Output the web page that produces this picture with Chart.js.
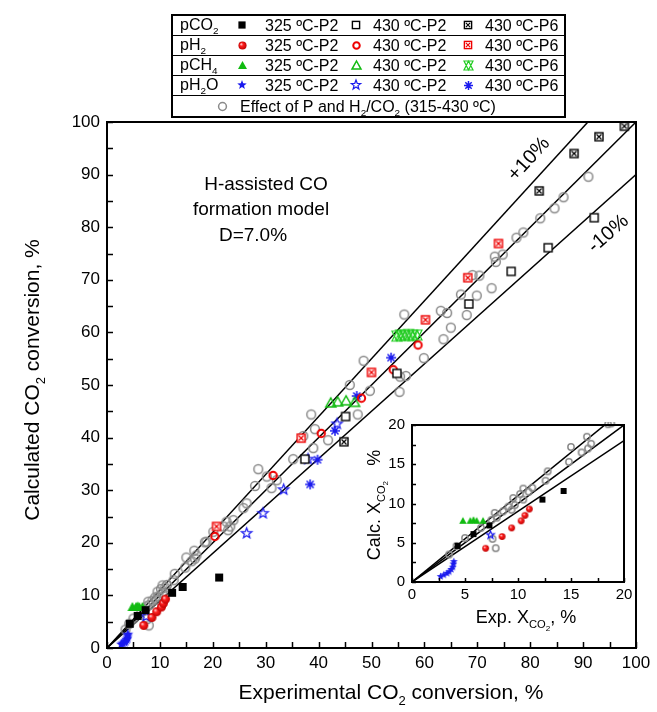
<!DOCTYPE html>
<html lang="en">
<head>
<meta charset="UTF-8">
<title>Calculated vs experimental CO2 conversion</title>
<script src="https://cdn.jsdelivr.net/npm/chart.js"></script>
<style>
  body { margin: 0; background: #fff; }
  #wrap { position: relative; width: 657px; height: 712px; }
  #mainChart { position: absolute; left: 0; top: 0; }
  #insetChart { position: absolute; left: 350px; top: 405px; }
</style>
</head>
<body>
<div id="wrap">
  <canvas id="mainChart" width="657" height="712"></canvas>
  <canvas id="insetChart" width="290" height="235"></canvas>
</div>
<script>
// data: [experimental, calculated] CO2 conversion, %
const pco2_325 = [[4.3,4.6],[5.8,6.1],[7.3,7.2],[12.3,10.5],[14.3,11.6],[21.2,13.4]];
const pco2_430p2 = [[37.4,35.9],[45.1,44.0],[54.8,52.2],[68.4,65.4],[76.4,71.6],[83.4,76.1],[92.1,81.8]];
const pco2_430p6 = [[44.8,39.2],[81.7,86.9],[88.3,94.0],[93.0,97.2],[97.8,99.2]];
const ph2_325 = [[6.95,4.3],[8.5,5.8],[9.4,6.9],[10.3,7.8],[10.66,8.5],[11.07,9.3]];
const ph2_430p2 = [[20.4,21.2],[31.4,32.8],[40.5,40.8],[48.1,47.5],[54.1,52.9],[58.8,57.6]];
const ph2_430p6 = [[20.7,23.1],[36.7,39.9],[50.0,52.4],[60.2,62.4],[68.2,70.4],[74.0,76.9]];
const pch4_325 = [[4.8,7.8],[5.5,7.8],[5.8,7.9],[6.1,7.8],[6.7,7.8]];
const pch4_430p2 = [[42.3,46.6],[43.6,46.8],[45.2,47.0],[46.8,46.7]];
const pch4_430p6 = [[54.8,59.3],[55.5,59.5],[56.3,59.4],[57.0,59.6],[57.8,59.4],[58.6,59.5]];
const ph2o_325 = [[2.7,0.7],[3.0,0.9],[3.3,1.1],[3.5,1.3],[3.7,1.6],[3.85,1.9],[3.9,2.3],[3.95,2.6]];
const ph2o_430p2 = [[7.4,6.0],[26.4,21.8],[29.5,25.6],[33.4,30.1],[38.0,35.9],[43.5,42.6]];
const ph2o_430p6 = [[38.4,31.1],[39.8,35.8],[43.1,41.3],[47.2,47.9],[53.7,55.2]];
const effectPH2 = [
  [3.5,3.5],[4.2,4.6],[5.0,5.6],[6.5,6.9],[7.5,7.9],[7.8,8.8],[8.0,8.2],[8.6,9.0],[9.1,9.6],
  [9.4,9.2],[9.55,10.7],[9.7,9.8],[10.2,11.2],[10.5,10.5],[10.5,11.9],[11.0,11.5],[11.35,12.0],
  [12.6,12.9],[12.8,14.1],[14.8,15.3],[15.0,17.2],[16.0,16.5],[16.5,18.5],[16.6,17.0],[16.9,17.6],
  [18.5,20.1],[7.6,5.5],[7.9,4.3],[18.8,20.2],[20.1,22.1],[22.0,23.1],[22.9,22.4],[23.3,23.1],
  [22.6,24.0],[23.9,24.3],[25.8,26.6],[26.4,27.5],[28.0,30.8],[28.6,34.0],[30.2,32.6],[31.1,30.4],
  [32.1,31.9],[35.2,35.9],[37.1,40.3],[38.6,44.4],[39.0,38.0],[39.3,41.6],[41.8,39.5],[45.9,50.0],
  [47.4,44.4],[48.5,54.6],[49.7,48.9],[55.3,48.7],[55.4,51.6],[56.5,51.7],[56.2,63.4],[59.9,55.1],
  [63.1,64.1],[64.3,63.7],[63.6,58.7],[65.0,60.9],[66.9,67.2],[68.0,63.3],[69.1,70.9],[70.4,70.8],
  [69.9,67.0],[72.7,68.4],[73.3,74.4],[73.5,73.4],[74.8,74.8],[77.4,78.0],[78.7,79.0],[81.9,81.7],
  [84.6,83.6],[86.3,85.7],[91.0,89.6]
];
// parity line and +/-10% bands (end points)
const parityLine = [[0,0],[100,100]];
const plus10Line = [[0,0],[90.91,100]];
const minus10Line = [[0,0],[100,90]];

const legendRowLabels = [['pCO',{t:'2',l:1}], ['pH',{t:'2',l:1}], ['pCH',{t:'4',l:1}], ['pH',{t:'2',l:1},'O']];
const legendItemLabels = ['325 ºC-P2', '430 ºC-P2', '430 ºC-P6'];
const legendEffectLabel = ['Effect of P and H',{t:'2',l:1},'/CO',{t:'2',l:1},' (315-430 ºC)'];

const FONT = '"Liberation Sans", Arial, sans-serif';

function makeMarker(kind, color, s) {
  const n = Math.ceil(s) + 6;
  const c = document.createElement('canvas');
  c.width = n; c.height = n;
  const g = c.getContext('2d');
  const m = n / 2, h = s / 2;
  g.strokeStyle = color; g.fillStyle = color; g.lineWidth = 1.4;
  g.lineJoin = 'miter';
  if (kind === 'sqFill') {
    g.fillRect(m - h, m - h, s, s);
  } else if (kind === 'sqOpen') {
    g.fillStyle = '#fff'; g.fillRect(m - h, m - h, s, s);
    g.strokeRect(m - h, m - h, s, s);
  } else if (kind === 'sqCross') {
    g.fillStyle = '#fff'; g.fillRect(m - h, m - h, s, s);
    g.strokeRect(m - h, m - h, s, s);
    g.lineWidth = 1.2;
    g.beginPath();
    g.moveTo(m - h + 1.5, m - h + 1.5); g.lineTo(m + h - 1.5, m + h - 1.5);
    g.moveTo(m + h - 1.5, m - h + 1.5); g.lineTo(m - h + 1.5, m + h - 1.5);
    g.stroke();
  } else if (kind === 'ball') {
    const gr = g.createRadialGradient(m - h * 0.35, m - h * 0.35, 0.3, m, m, h);
    gr.addColorStop(0, '#ffd0d0'); gr.addColorStop(0.35, '#ff2020'); gr.addColorStop(1, '#c00000');
    g.fillStyle = gr;
    g.beginPath(); g.arc(m, m, h, 0, Math.PI * 2); g.fill();
  } else if (kind === 'ring') {
    g.lineWidth = 2;
    g.beginPath(); g.arc(m, m, h - 0.8, 0, Math.PI * 2); g.stroke();
  } else if (kind === 'greyRing') {
    g.lineWidth = 1.5;
    g.beginPath(); g.arc(m, m, h - 0.6, 0, Math.PI * 2); g.stroke();
  } else if (kind === 'triFill' || kind === 'triOpen') {
    g.beginPath();
    g.moveTo(m, m - h); g.lineTo(m + h, m + h * 0.8); g.lineTo(m - h, m + h * 0.8); g.closePath();
    if (kind === 'triFill') g.fill(); else { g.lineWidth = 1.5; g.stroke(); }
  } else if (kind === 'hourglass') {
    g.lineWidth = 1.2;
    g.beginPath();
    g.moveTo(m, m - h); g.lineTo(m + h, m + h); g.lineTo(m - h, m + h); g.closePath();
    g.moveTo(m, m + h); g.lineTo(m + h, m - h); g.lineTo(m - h, m - h); g.closePath();
    g.stroke();
  } else if (kind === 'starFill' || kind === 'starOpen') {
    g.beginPath();
    for (let i = 0; i < 10; i++) {
      const r = i % 2 === 0 ? h : h * 0.42;
      const a = -Math.PI / 2 + i * Math.PI / 5;
      const px = m + r * Math.cos(a), py = m + r * Math.sin(a);
      if (i === 0) g.moveTo(px, py); else g.lineTo(px, py);
    }
    g.closePath();
    if (kind === 'starFill') g.fill(); else { g.lineWidth = 1.2; g.stroke(); }
  } else if (kind === 'asterisk') {
    g.lineWidth = 1.5;
    g.beginPath();
    for (let i = 0; i < 4; i++) {
      const a = i * Math.PI / 4;
      g.moveTo(m - h * Math.cos(a), m - h * Math.sin(a));
      g.lineTo(m + h * Math.cos(a), m + h * Math.sin(a));
    }
    g.stroke();
  }
  return c;
}

const seriesDefs = [
  {data: pco2_325, kind: 'sqFill', color: '#000', s: 8},
  {data: pco2_430p2, kind: 'sqOpen', color: '#000', s: 8},
  {data: pco2_430p6, kind: 'sqCross', color: '#000', s: 8},
  {data: ph2_325, kind: 'ball', color: '#e00', s: 9},
  {data: ph2_430p2, kind: 'ring', color: '#e00', s: 9},
  {data: ph2_430p6, kind: 'sqCross', color: '#ee0000', s: 8},
  {data: pch4_325, kind: 'triFill', color: '#11bb11', s: 10},
  {data: pch4_430p2, kind: 'triOpen', color: '#11bb11', s: 10},
  {data: pch4_430p6, kind: 'hourglass', color: '#22cc22', s: 10},
  {data: ph2o_325, kind: 'starFill', color: '#1a1aee', s: 11},
  {data: ph2o_430p2, kind: 'starOpen', color: '#1a1aee', s: 11},
  {data: ph2o_430p6, kind: 'asterisk', color: '#1a1aee', s: 10},
  {data: effectPH2, kind: 'greyRing', color: '#8a8a8a', s: 10}
];

function richParts(ctx, parts, size) {
  return parts.map(p => {
    const lvl = typeof p === 'string' ? 0 : p.l;
    const t = typeof p === 'string' ? p : p.t;
    const fs = lvl === 0 ? size : lvl === 1 ? size * 0.62 : size * 0.45;
    const dy = lvl === 0 ? 0 : lvl === 1 ? size * 0.28 : size * 0.45;
    ctx.font = fs + 'px ' + FONT;
    return {t, fs, dy, w: ctx.measureText(t).width};
  });
}
function drawRich(ctx, parts, x, y, size, align) {
  const ps = richParts(ctx, parts, size);
  const total = ps.reduce((a, p) => a + p.w, 0);
  let cx = align === 'center' ? x - total / 2 : align === 'right' ? x - total : x;
  ctx.textAlign = 'left'; ctx.textBaseline = 'alphabetic';
  ps.forEach(p => { ctx.font = p.fs + 'px ' + FONT; ctx.fillText(p.t, cx, y + p.dy); cx += p.w; });
}
function drawRotated(ctx, parts, x, y, size, angle) {
  ctx.save(); ctx.translate(x, y); ctx.rotate(angle);
  drawRich(ctx, parts, 0, 0, size, 'center');
  ctx.restore();
}

function buildDatasets(scale) {
  const pts = seriesDefs.map(d => ({
    data: d.data.map(p => ({x: p[0], y: p[1]})),
    pointStyle: makeMarker(d.kind, d.color, d.s * scale),
    pointRadius: d.s * scale / 2,
    showLine: false,
    clip: 3
  }));
  const lines = [parityLine, plus10Line, minus10Line].map(l => ({
    data: l.map(p => ({x: p[0], y: p[1]})),
    showLine: true, pointRadius: 0, borderColor: '#000', borderWidth: 1.5, clip: 0
  }));
  return pts.concat(lines);
}

function frameAndTicks(ctx, chart, major, minor, len) {
  const a = chart.chartArea, xs = chart.scales.x, ys = chart.scales.y;
  ctx.save();
  ctx.strokeStyle = '#000';
  ctx.lineWidth = 1.5;
  ctx.beginPath();
  for (let v = xs.min; v <= xs.max + 1e-9; v += minor) {
    const px = Math.round(xs.getPixelForValue(v)) + 0.5;
    ctx.moveTo(px, a.bottom); ctx.lineTo(px, a.bottom - len);
  }
  for (let v = ys.min; v <= ys.max + 1e-9; v += minor) {
    const py = Math.round(ys.getPixelForValue(v)) + 0.5;
    ctx.moveTo(a.left, py); ctx.lineTo(a.left + len, py);
  }
  ctx.stroke();
  ctx.lineWidth = 2;
  ctx.strokeRect(a.left, a.top, a.right - a.left, a.bottom - a.top);
  ctx.restore();
}

const mainPlugin = {
  id: 'mainDeco',
  afterDraw(chart) {
    const ctx = chart.ctx;
    frameAndTicks(ctx, chart, 10, 5, 6);
    ctx.save();
    ctx.fillStyle = '#000';
    // annotation text
    drawRich(ctx, ['H-assisted CO'], 266, 190, 19, 'center');
    drawRich(ctx, ['formation model'], 261, 215, 19, 'center');
    drawRich(ctx, ['D=7.0%'], 253, 241, 19, 'center');
    drawRotated(ctx, ['+10%'], 533, 163, 20, -0.83);
    drawRotated(ctx, ['-10%'], 612, 238, 20, -0.72);
    // axis titles
    drawRich(ctx, ['Experimental CO', {t: '2', l: 1}, ' conversion, %'], 391, 699, 21, 'center');
    drawRotated(ctx, ['Calculated CO', {t: '2', l: 1}, ' conversion, %'], 39, 380, 21, -Math.PI / 2);
    // legend table
    const L = 172, R = 565, rows = [15, 35, 55, 75, 95, 117];
    ctx.lineWidth = 1.2; ctx.strokeStyle = '#000';
    ctx.beginPath();
    for (let i = 1; i < rows.length - 1; i++) { ctx.moveTo(L, rows[i] + 0.5); ctx.lineTo(R, rows[i] + 0.5); }
    ctx.stroke();
    ctx.lineWidth = 2;
    ctx.strokeRect(L, rows[0], R - L, rows[5] - rows[0]);
    const markX = [242, 356, 468], textX = [265, 373, 485];
    for (let r = 0; r < 4; r++) {
      const cy = (rows[r] + rows[r + 1]) / 2;
      ctx.fillStyle = '#000';
      drawRich(ctx, legendRowLabels[r], 180, cy + 5, 16, 'left');
      for (let k = 0; k < 3; k++) {
        const img = legendMarkers[r * 3 + k];
        ctx.drawImage(img, Math.round(markX[k] - img.width / 2), Math.round(cy - img.height / 2));
        ctx.fillStyle = '#000';
        drawRich(ctx, [legendItemLabels[k]], textX[k], cy + 6, 16, 'left');
      }
    }
    const cy5 = (rows[4] + rows[5]) / 2;
    const gimg = legendMarkers[12];
    ctx.drawImage(gimg, Math.round(222 - gimg.width / 2), Math.round(cy5 - gimg.height / 2));
    ctx.fillStyle = '#000';
    drawRich(ctx, legendEffectLabel, 240, cy5 + 6, 16, 'left');
    ctx.restore();
  }
};

const legendMarkers = seriesDefs.map(d => makeMarker(d.kind, d.color, d.s * 0.9));

const insetPlugin = {
  id: 'insetDeco',
  afterDraw(chart) {
    const ctx = chart.ctx;
    frameAndTicks(ctx, chart, 5, 2.5, 4);
    ctx.save();
    ctx.fillStyle = '#000';
    drawRich(ctx, ['Exp. X', {t: 'CO', l: 1}, {t: '2', l: 2}, ', %'], 176, 218, 18, 'center');
    drawRotated(ctx, ['Calc. X', {t: 'CO', l: 1}, {t: '2', l: 2}, '   %'], 30, 100, 18, -Math.PI / 2);
    ctx.restore();
  }
};

function axisOpts(max, step, fontSize, isX, fitSize, pad) {
  return {
    type: 'linear', min: 0, max: max,
    grid: {display: false, drawTicks: false},
    border: {display: false},
    ticks: {stepSize: step, color: '#000', font: {family: FONT, size: fontSize}, padding: pad, maxRotation: 0},
    afterFit(scale) { if (isX) scale.height = fitSize; else scale.width = fitSize; }
  };
}

new Chart(document.getElementById('mainChart'), {
  type: 'scatter',
  data: {datasets: buildDatasets(1)},
  options: {
    responsive: false, animation: false,
    layout: {padding: {top: 122, right: 21, left: 0, bottom: 0}},
    plugins: {legend: {display: false}, tooltip: {enabled: false}},
    scales: {
      x: axisOpts(100, 10, 17, true, 64, 5),
      y: axisOpts(100, 10, 17, false, 107, 7)
    }
  },
  plugins: [mainPlugin]
});

new Chart(document.getElementById('insetChart'), {
  type: 'scatter',
  data: {datasets: buildDatasets(0.75)},
  options: {
    responsive: false, animation: false,
    layout: {padding: {top: 20, right: 16, left: 0, bottom: 0}},
    plugins: {legend: {display: false}, tooltip: {enabled: false}},
    scales: {
      x: axisOpts(20, 5, 15, true, 58, 4),
      y: axisOpts(20, 5, 15, false, 62, 7)
    }
  },
  plugins: [insetPlugin]
});
</script>
</body>
</html>
